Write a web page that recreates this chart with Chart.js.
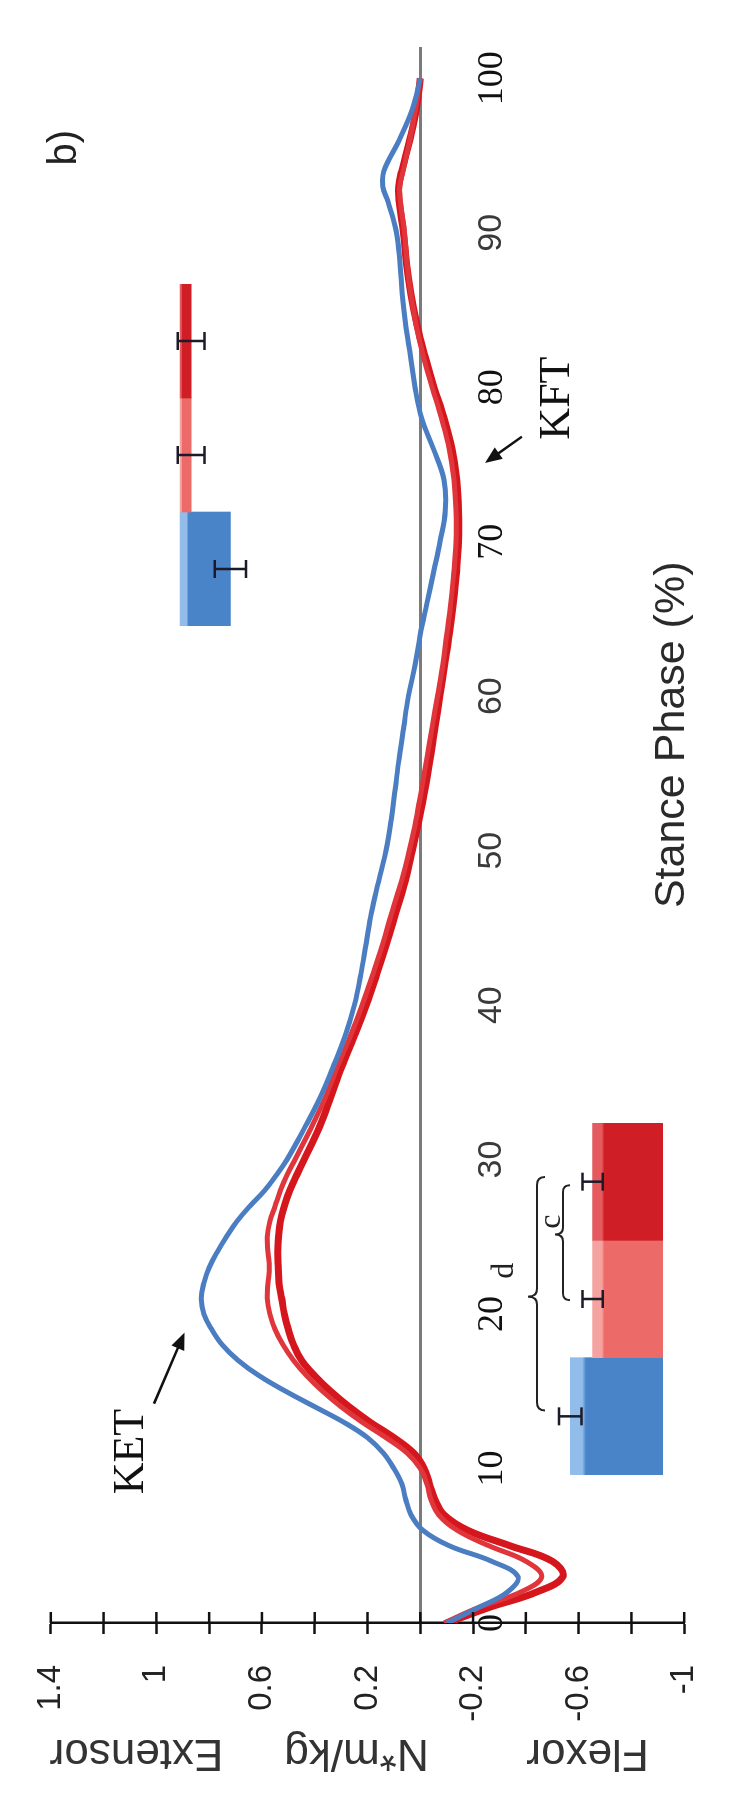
<!DOCTYPE html>
<html><head><meta charset="utf-8">
<script src="https://cdn.jsdelivr.net/npm/chart.js@4.4.1/dist/chart.umd.min.js"></script>
<style>
html,body{margin:0;padding:0;background:#fff;overflow:hidden;width:735px;height:1796px;}
#rot{position:absolute;left:0;top:0;width:1796px;height:735px;transform-origin:0 0;transform:translateY(1796px) rotate(-90deg);background:#fff;}
#rot canvas{position:absolute;}
</style></head><body>
<div id="rot">
<canvas id="main" width="1796" height="735" style="left:0;top:0;width:1796px;height:735px"></canvas>
<canvas id="ket" width="352" height="183" style="left:321px;top:480px;width:352px;height:183px"></canvas>
<canvas id="kft" width="342" height="120" style="left:1170px;top:150px;width:342px;height:120px"></canvas>
</div>
<script>
// ---- data ----
const stance = [0,1,2,3,4,5,6,7,8,9,10,11,12,13,14,15,16,17,18,19,20,21,22,23,24,25,26,27,28,29,30,32,34,36,38,40,42,44,46,48,50,52,54,56,58,60,62,64,66,68,70,72,74,76,78,80,82,84,86,88,90,92,93,94,96,98,100];
const controlMoment = [-0.10,-0.22,-0.33,-0.37,-0.27,-0.11,-0.01,0.035,0.055,0.07,0.10,0.14,0.20,0.29,0.40,0.51,0.61,0.69,0.75,0.79,0.82,0.83,0.82,0.80,0.77,0.735,0.695,0.645,0.59,0.545,0.505,
  0.44,0.38,0.33,0.285,0.25,0.225,0.205,0.185,0.158,0.13,0.11,0.095,0.08,0.063,0.045,0.02,0.0,-0.025,-0.05,-0.075,-0.095,-0.09,-0.05,-0.005,0.02,0.037,0.055,0.068,0.077,0.09,
  0.122,0.142,0.138,0.08,0.03,0.0];
const groupAMoment = [-0.09,-0.22,-0.38,-0.46,-0.40,-0.26,-0.14,-0.07,-0.04,-0.025,0.0,0.05,0.13,0.22,0.30,0.37,0.43,0.48,0.52,0.55,0.57,0.58,0.577,0.572,0.577,0.58,0.57,0.55,0.53,0.505,0.475,
  0.415,0.36,0.315,0.265,0.22,0.18,0.142,0.108,0.072,0.042,0.016,-0.005,-0.025,-0.045,-0.065,-0.085,-0.10,-0.115,-0.127,-0.135,-0.135,-0.128,-0.11,-0.08,-0.045,-0.012,0.015,0.035,0.05,0.06,
  0.075,0.078,0.065,0.04,0.018,0.0];
const groupBMoment = [-0.10,-0.26,-0.44,-0.54,-0.50,-0.34,-0.18,-0.09,-0.055,-0.035,-0.015,0.025,0.10,0.19,0.27,0.34,0.40,0.45,0.48,0.50,0.515,0.525,0.535,0.538,0.54,0.537,0.53,0.515,0.495,0.468,0.44,
  0.385,0.34,0.298,0.25,0.205,0.165,0.127,0.092,0.057,0.03,0.005,-0.018,-0.038,-0.056,-0.074,-0.092,-0.11,-0.125,-0.137,-0.145,-0.145,-0.138,-0.12,-0.09,-0.052,-0.018,0.012,0.035,0.052,0.064,
  0.08,0.082,0.07,0.04,0.015,0.0];
const stanceTicks = [0,10,20,30,40,50,60,70,80,90,100];
const serifStanceTicks = [0,10,20,70,80,100];
const momentTicks = [-1,-0.8,-0.6,-0.4,-0.2,0,0.2,0.4,0.6,0.8,1,1.2,1.4];
const momentTickLabels = ['-1','','-0.6','','-0.2','','0.2','','0.6','','1','','1.4'];
const groupNames = ['Control','Group A','Group B'];
const ketPeak = [0.83,0.63,0.63];
const ketSD = [0.10,0.09,0.09];
const kftPeak = [-0.45,-0.10,-0.10];
const kftSD = [0.14,0.12,0.12];

// ---- helpers ----
function pts(vals){ return stance.map((s,i)=>({x:s,y:vals[i]})); }
function arrow(ctx,x1,y1,x2,y2){
  const a=Math.atan2(y2-y1,x2-x1), L=17, W=7;
  ctx.beginPath(); ctx.moveTo(x1,y1); ctx.lineTo(x2-Math.cos(a)*L*0.8,y2-Math.sin(a)*L*0.8); ctx.stroke();
  ctx.beginPath(); ctx.moveTo(x2,y2);
  ctx.lineTo(x2-Math.cos(a)*L+Math.sin(a)*W, y2-Math.sin(a)*L-Math.cos(a)*W);
  ctx.lineTo(x2-Math.cos(a)*L-Math.sin(a)*W, y2-Math.sin(a)*L+Math.cos(a)*W);
  ctx.closePath(); ctx.fill();
}

const mainAnnot = {
  id:'mainAnnot',
  afterDatasetsDraw(chart){
    const {ctx, chartArea, scales:{x,y}} = chart;
    ctx.save();
    ctx.strokeStyle='#111'; ctx.lineWidth=2.5;
    momentTicks.forEach(v=>{const py=y.getPixelForValue(v); ctx.beginPath(); ctx.moveTo(chartArea.left,py); ctx.lineTo(chartArea.left+11,py); ctx.stroke();});
    ctx.textAlign='center'; ctx.textBaseline='middle';
    const texts = [
      {t:'KET', x:11.1, y:1.093, f:'44px "Liberation Serif", "Times New Roman", serif', c:'#111'},
      {t:'KFT', x:79.3, y:-0.521, f:'44px "Liberation Serif", "Times New Roman", serif', c:'#111'},
      {t:'b)', x:95.5, y:1.348, f:'40px "Liberation Sans", Arial, sans-serif', c:'#222'},
      {t:'Stance Phase (%)', x:57.5, y:-0.956, f:'43px "Liberation Sans", Arial, sans-serif', c:'#2a2a2a'}
    ];
    texts.forEach(o=>{ctx.font=o.f; ctx.fillStyle=o.c; ctx.fillText(o.t, x.getPixelForValue(o.x), y.getPixelForValue(o.y));});
    ctx.strokeStyle='#111'; ctx.fillStyle='#111'; ctx.lineWidth=2.5;
    arrow(ctx, x.getPixelForValue(14.2), y.getPixelForValue(1.009), x.getPixelForValue(18.8), y.getPixelForValue(0.893));
    arrow(ctx, x.getPixelForValue(76.8), y.getPixelForValue(-0.385), x.getPixelForValue(75.1), y.getPixelForValue(-0.245));
    ctx.restore();
  }
};

new Chart(document.getElementById('main'), {
  type:'line',
  data:{datasets:[
    {label:'Control', data:pts(controlMoment), borderColor:'#4b7dc3', borderWidth:5, pointRadius:0, tension:0.4, fill:false},
    {label:'Group A', data:pts(groupAMoment), borderColor:'#e0353a', borderWidth:5, pointRadius:0, tension:0.4, fill:false},
    {label:'Group B', data:pts(groupBMoment), borderColor:'#d5161d', borderWidth:7, pointRadius:0, tension:0.4, fill:false}
  ]},
  options:{
    responsive:false, animation:false, devicePixelRatio:1,
    layout:{padding:{left:13,right:16,top:33,bottom:15}},
    plugins:{legend:{display:false}, tooltip:{enabled:false}},
    scales:{
      x:{type:'linear', position:{y:0}, min:0, max:102,
        afterBuildTicks:s=>{s.ticks=stanceTicks.map(v=>({value:v}));},
        grid:{display:true, drawOnChartArea:false, drawTicks:false},
        border:{color:'#7b7b7b', width:3},
        ticks:{autoSkip:false, maxRotation:0, minRotation:0, padding:51,
          font:c=> (c.tick && serifStanceTicks.includes(c.tick.value)) ? {family:'"Liberation Serif", "Times New Roman", serif', size:36} : {family:'"Liberation Sans", Arial, sans-serif', size:34},
          color:c=> (c.tick && serifStanceTicks.includes(c.tick.value)) ? '#111' : '#3a3a3a'}
      },
      y:{type:'linear', position:'left', min:-1, max:1.4,
        afterFit:s=>{s.width=160;},
        afterBuildTicks:s=>{s.ticks=momentTicks.map(v=>({value:v}));},
        grid:{drawOnChartArea:false, drawTicks:true, tickLength:11, tickWidth:2.5, tickColor:'#111', color:'#111'},
        border:{color:'#111', width:2.5},
        ticks:{autoSkip:false, padding:31, font:{family:'"Liberation Sans", Arial, sans-serif', size:33}, color:'#222',
          callback:(v,i)=>momentTickLabels[i]},
        title:{display:true, text:'   Flexor        N*m/kg     Extensor', font:{family:'"Liberation Sans", Arial, sans-serif', size:44}, color:'#333', padding:{top:4,bottom:4}}
      }
    }
  },
  plugins:[mainAnnot]
});

// ---- inset bar charts ----
const barBase = ['#4a84c8','#ec6a68','#cf1e25'];
const barLight = ['#92bdea','#f5a3a0','#e45a5e'];
function insetFill(vals){
  return c=>{
    const ch=c.chart, ys=ch.scales && ch.scales.y, i=c.dataIndex;
    if(!ys || !ch.chartArea || i===undefined) return barBase[i||0];
    const v=vals[i]; const yT=ys.getPixelForValue(Math.max(v,0)), yB=ys.getPixelForValue(Math.min(v,0));
    if(!isFinite(yT)||!isFinite(yB)||yT===yB) return barBase[i];
    const g=ch.ctx.createLinearGradient(0,yT,0,yB);
    g.addColorStop(0,barLight[i]); g.addColorStop(0.13,barLight[i]); g.addColorStop(0.17,barBase[i]); g.addColorStop(1,barBase[i]);
    return g;
  };
}
function errPlugin(sd, extra){
  return {id:'err', afterDatasetsDraw(chart){
    const {ctx, scales:{x,y}} = chart; const vals=chart.data.datasets[0].data;
    ctx.save(); ctx.strokeStyle='#1b1b2a'; ctx.lineWidth=2.5;
    vals.forEach((v,i)=>{
      const px=x.getPixelForValue(i), y1=y.getPixelForValue(v-sd[i]), y2=y.getPixelForValue(v+sd[i]);
      ctx.beginPath(); ctx.moveTo(px,y1); ctx.lineTo(px,y2);
      ctx.moveTo(px-9,y1); ctx.lineTo(px+9,y1); ctx.moveTo(px-9,y2); ctx.lineTo(px+9,y2); ctx.stroke();
    });
    if(extra) extra(chart);
    ctx.restore();
  }};
}
function brace(ctx,x1,x2,xt,yEnd,yLine,yTip){
  const r=Math.min(10, Math.abs(yEnd-yLine));
  ctx.beginPath();
  ctx.moveTo(x1,yEnd); ctx.quadraticCurveTo(x1,yLine,x1+r,yLine); ctx.lineTo(xt-r,yLine); ctx.quadraticCurveTo(xt,yLine,xt,yTip);
  ctx.quadraticCurveTo(xt,yLine,xt+r,yLine); ctx.lineTo(x2-r,yLine); ctx.quadraticCurveTo(x2,yLine,x2,yEnd);
  ctx.stroke();
}
function insetOptions(yMin,yMax){
  return {responsive:false, animation:false, devicePixelRatio:1, layout:{padding:0},
    plugins:{legend:{display:false}, tooltip:{enabled:false}},
    scales:{x:{type:'category', display:false, offset:true}, y:{display:false, min:yMin, max:yMax}}};
}

new Chart(document.getElementById('ket'), {
  type:'bar',
  data:{labels:groupNames, datasets:[{data:ketPeak, backgroundColor:insetFill(ketPeak), borderWidth:0, barPercentage:1, categoryPercentage:1}]},
  options:insetOptions(0,1.637),
  plugins:[errPlugin(ketSD, chart=>{
    const {ctx, scales:{x,y}} = chart;
    ctx.strokeStyle='#222'; ctx.lineWidth=2;
    brace(ctx, x.getPixelForValue(0.05), x.getPixelForValue(2.04), x.getPixelForValue(1.02), y.getPixelForValue(1.055), y.getPixelForValue(1.127), y.getPixelForValue(1.208));
    brace(ctx, x.getPixelForValue(0.99), x.getPixelForValue(1.97), x.getPixelForValue(1.55), y.getPixelForValue(0.832), y.getPixelForValue(0.894), y.getPixelForValue(0.966));
    ctx.fillStyle='#222'; ctx.textAlign='center'; ctx.textBaseline='middle';
    ctx.font='32px "Liberation Serif", "Times New Roman", serif';
    ctx.fillText('d', x.getPixelForValue(1.24), y.getPixelForValue(1.42));
    ctx.fillText('c', x.getPixelForValue(1.66), y.getPixelForValue(1.0));
  })]
});

new Chart(document.getElementById('kft'), {
  type:'bar',
  data:{labels:groupNames, datasets:[{data:kftPeak, backgroundColor:insetFill(kftPeak), borderWidth:0, barPercentage:1, categoryPercentage:1}]},
  options:insetOptions(-0.805,0.268),
  plugins:[errPlugin(kftSD)]
});
</script>
</body></html>
